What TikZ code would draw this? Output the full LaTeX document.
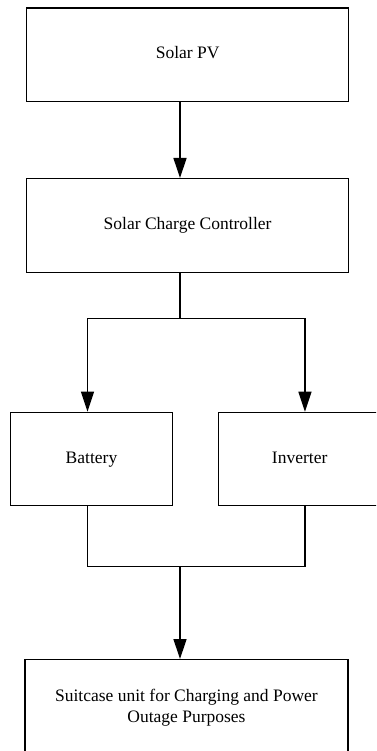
\documentclass[tikz,border=0pt]{standalone}
\usepackage{fontspec}
\setmainfont{Liberation Serif}
\usetikzlibrary{arrows.meta}
\begin{document}
\begin{tikzpicture}[x=1pt,y=-1pt,
  blk/.style={draw=black, line width=1.3pt, fill=white, inner sep=0pt, anchor=north west,
    font=\fontsize{17.5}{21.3}\selectfont, align=center},
  one/.style={text height=12pt, text depth=4pt},
  conn/.style={draw=black, line width=1.3pt},
  arr/.style={conn, -{Triangle[length=20pt,width=13pt]}}]
\useasboundingbox (0,0) rectangle (376,751);
\clip (0,0) rectangle (376,751);
\fill[white] (0,0) rectangle (376,751);
\node[blk, one, minimum width=322pt, minimum height=93.4pt] (pv) at (26,7.3) {Solar PV};
\node[blk, one, minimum width=322pt, minimum height=94pt] (scc) at (26,178) {Solar Charge Controller};
\node[blk, one, minimum width=161.7pt, minimum height=93.3pt] (bat) at (10,411.7) {Battery};
\node[blk, one, minimum width=162pt, minimum height=93.3pt] (inv) at (218,411.7) {Inverter};
\node[blk, minimum width=323pt, minimum height=96pt] (suit) at (24.3,659) {Suitcase unit for Charging and Power\\Outage Purposes};
\coordinate (c1) at (180,318.3);
\coordinate (c2) at (180,566.7);
\draw[arr] (pv.south -| c1) -- (scc.north -| c1);
\draw[conn] (scc.south -| c1) -- (c1);
\draw[arr] (c1) -| ([xshift=-4pt]bat.north);
\draw[arr] (c1) -| ([xshift=5.3pt]inv.north);
\draw[conn] ([xshift=-4pt]bat.south) |- (c2);
\draw[conn] ([xshift=5.3pt]inv.south) |- (c2);
\draw[arr] (c2) -- (suit.north -| c2);
\end{tikzpicture}
\end{document}
